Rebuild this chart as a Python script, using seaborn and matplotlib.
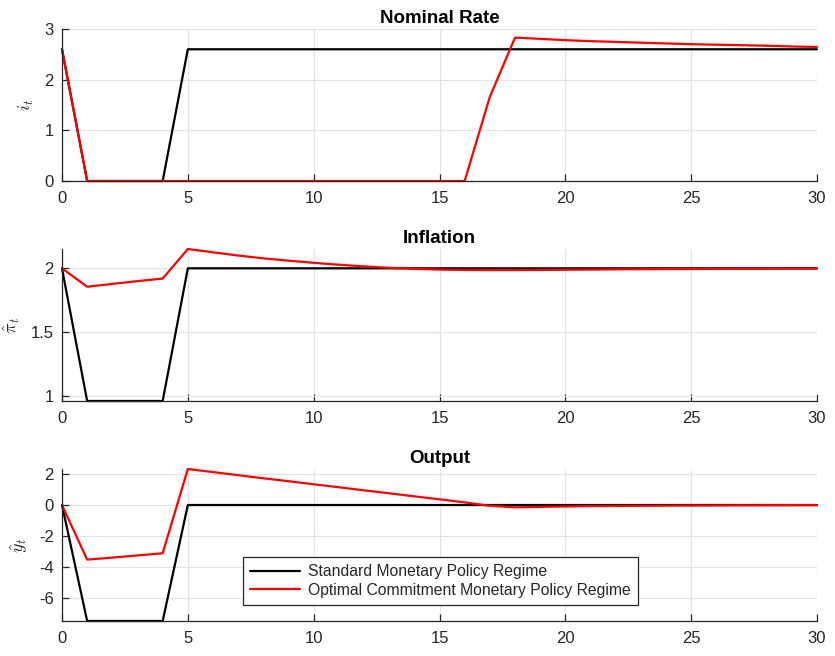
import numpy as np
import pandas as pd
import matplotlib
matplotlib.use("Agg")
import matplotlib.pyplot as plt
import seaborn as sns

# Impulse responses over a 30-period horizon
periods = list(range(31))

rate_standard = [2.6, 0, 0, 0, 0] + [2.6] * 26
rate_commitment = ([2.6] + [0.0] * 16 +
                   [1.66, 2.83, 2.805, 2.78, 2.76, 2.745, 2.73, 2.715,
                    2.70, 2.69, 2.68, 2.67, 2.655, 2.645])

infl_standard = [2.0, 0.963, 0.963, 0.963, 0.963] + [2.0] * 26
infl_commitment = [2.0, 1.856, 1.878, 1.90, 1.92, 2.151, 2.125, 2.10, 2.078,
                   2.06, 2.043, 2.028, 2.015, 2.004, 1.996, 1.99, 1.987,
                   1.986, 1.986, 1.987, 1.989, 1.99, 1.992, 1.993, 1.994,
                   1.995, 1.996, 1.997, 1.997, 1.998, 1.998]

output_standard = [0.0, -7.5, -7.5, -7.5, -7.5] + [0.0] * 26
output_commitment = [0.0, -3.53, -3.40, -3.26, -3.12, 2.33, 2.13, 1.93, 1.73,
                     1.54, 1.34, 1.15, 0.95, 0.76, 0.56, 0.37, 0.17, -0.05,
                     -0.15, -0.12, -0.09, -0.07, -0.06, -0.05, -0.04, -0.03,
                     -0.025, -0.02, -0.015, -0.01, -0.01]

regimes = ["Standard Monetary Policy Regime",
           "Optimal Commitment Monetary Policy Regime"]
titles = ["Nominal Rate", "Inflation", "Output"]
ylabels = [r"$i_t$", r"$\hat{\pi}_t$", r"$\hat{y}_t$"]
yticks = [[0, 1, 2, 3], [1, 1.5, 2], [-6, -4, -2, 0, 2]]
xticks = [0, 5, 10, 15, 20, 25, 30]

series = [(rate_standard, rate_commitment),
          (infl_standard, infl_commitment),
          (output_standard, output_commitment)]

sns.set_style("white")
plt.rcParams["font.family"] = ["Liberation Sans", "DejaVu Sans"]
plt.rcParams["mathtext.fontset"] = "cm"

fig = plt.figure(figsize=(8.35, 6.56), dpi=100)
left, width, height = 62 / 835, 755 / 835, 152 / 656
bottoms = [1 - 181 / 656, 1 - 401 / 656, 1 - 621 / 656]
palette = {regimes[0]: "black", regimes[1]: "#ff0000"}
axis_color = "#262626"

for i, (std, com) in enumerate(series):
    ax = fig.add_axes([left, bottoms[i], width, height])
    df = pd.DataFrame({
        "t": periods * 2,
        "value": list(std) + list(com),
        "regime": [regimes[0]] * len(periods) + [regimes[1]] * len(periods),
    })
    sns.lineplot(data=df, x="t", y="value", hue="regime", palette=palette,
                 linewidth=1.6, ax=ax, legend=(i == 2))
    for line in ax.get_lines():
        line.set_clip_on(False)
    ax.set_xlim(0, 30)
    if i == 0:
        ax.set_ylim(0, 3)
    else:
        lo = min(min(std), min(com))
        hi = max(max(std), max(com))
        ax.set_ylim(lo, hi)
    ax.set_xticks(xticks)
    ax.set_yticks(yticks[i])
    ax.set_yticklabels([f"{v:g}" for v in yticks[i]])
    ax.grid(True, color="#e3e3e3", linewidth=0.9)
    ax.set_axisbelow(True)
    for side in ("top", "right"):
        ax.spines[side].set_visible(False)
    for side in ("left", "bottom"):
        ax.spines[side].set_color(axis_color)
        ax.spines[side].set_linewidth(0.9)
    ax.tick_params(bottom=True, left=True, direction="in", length=5,
                   width=0.9, colors=axis_color, labelsize=12)
    ax.tick_params(axis="x", pad=7)
    ax.tick_params(axis="y", pad=6)
    ax.set_xlabel("")
    ax.set_ylabel(ylabels[i], fontsize=13, color=axis_color, labelpad=6)
    ax.set_title(titles[i], fontsize=13.5, fontweight="bold", color="black",
                 pad=4)
    if i == 2:
        leg = ax.legend(loc="lower left", bbox_to_anchor=(0.24, 0.105),
                        fontsize=11.3, frameon=True, fancybox=False,
                        edgecolor=axis_color, framealpha=1,
                        handlelength=3.2, handletextpad=0.5,
                        borderpad=0.45, labelspacing=0.25,
                        borderaxespad=0)
        leg.get_frame().set_linewidth(0.9)

fig.savefig("out.png", dpi=100)
